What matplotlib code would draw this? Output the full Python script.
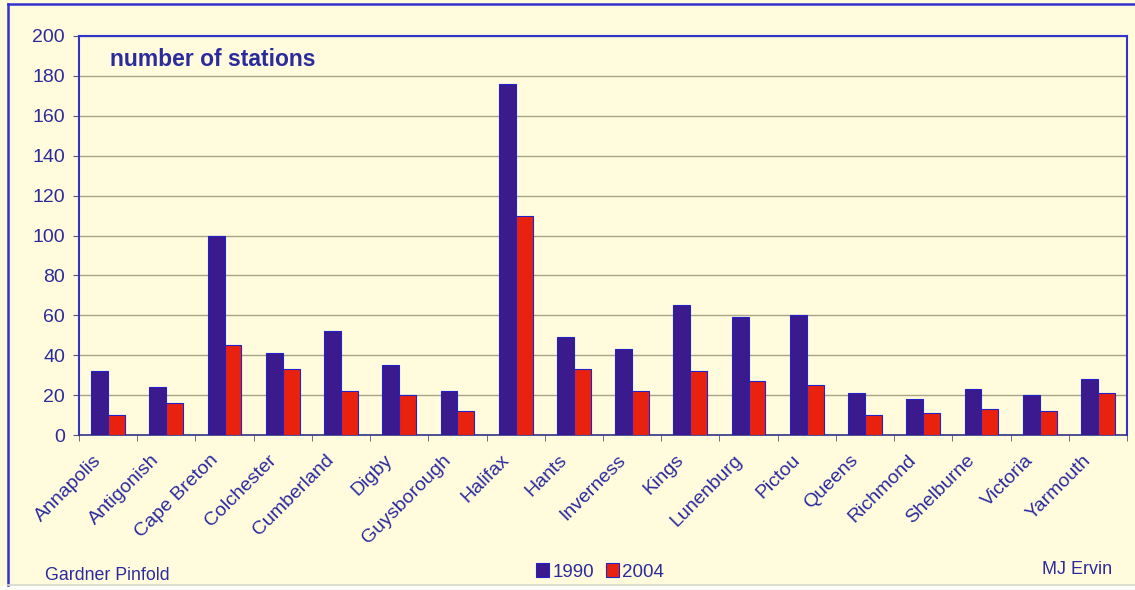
import matplotlib
matplotlib.use("Agg")
import matplotlib.pyplot as plt
import matplotlib.transforms as mtransforms
import numpy as np
from matplotlib.lines import Line2D
from matplotlib.patches import Rectangle

counties = ["Annapolis", "Antigonish", "Cape Breton", "Colchester", "Cumberland", "Digby",
            "Guysborough", "Halifax", "Hants", "Inverness", "Kings", "Lunenburg", "Pictou",
            "Queens", "Richmond", "Shelburne", "Victoria", "Yarmouth"]
stations_1990 = [32, 24, 100, 41, 52, 35, 22, 176, 49, 43, 65, 59, 60, 21, 18, 23, 20, 28]
stations_2004 = [10, 16, 45, 33, 22, 20, 12, 110, 33, 22, 32, 27, 25, 10, 11, 13, 12, 21]
yticks = [0, 20, 40, 60, 80, 100, 120, 140, 160, 180, 200]

BG = "#FFFBDC"
BLUE_TXT = "#2B2B9E"
C1990 = "#3A1A8C"
C2004 = "#E8220E"
EDGE = "#2222C8"

plt.rcParams['font.family'] = ['Liberation Sans', 'DejaVu Sans']

W, H = 1135, 590
fig = plt.figure(figsize=(W/100, H/100), dpi=100, facecolor=BG)
ax = fig.add_axes([79/W, 1-435/H, (1127-79)/W, (435-36)/H])
ax.set_facecolor(BG)

x = np.arange(len(counties))
w = 0.29
b1 = ax.bar(x - w/2, stations_1990, w, color=C1990, edgecolor=EDGE, linewidth=0.8, label="1990", zorder=3)
b2 = ax.bar(x + w/2, stations_2004, w, color=C2004, edgecolor=EDGE, linewidth=0.8, label="2004", zorder=3)

ax.set_xlim(-0.5, len(counties) - 0.5)
ax.set_ylim(0, 200)
ax.set_yticks(yticks)
ax.set_yticklabels([str(v) for v in yticks], fontsize=14, color=BLUE_TXT)
ax.yaxis.grid(True, color="#A8A488", linewidth=1.0, zorder=0)
ax.set_axisbelow(True)

ax.set_xticks(x)
ax.set_xticklabels(counties, rotation=45, ha="right", rotation_mode="anchor",
                   fontsize=14, color=BLUE_TXT)
ax.tick_params(axis="x", length=0, pad=10)
offset = mtransforms.ScaledTranslation(-11/72, -2/72, fig.dpi_scale_trans)
for lbl in ax.get_xticklabels():
    lbl.set_transform(lbl.get_transform() + offset)
ax.set_xticks(np.arange(-0.5, len(counties), 1), minor=True)
ax.tick_params(axis="x", which="minor", length=4, color="#555577", direction="out")
ax.tick_params(axis="y", length=4, color="#555577", pad=6)

for side in ["left", "top", "right"]:
    ax.spines[side].set_color("#3333CC")
    ax.spines[side].set_linewidth(1.5)
ax.spines["bottom"].set_color("#333388")
ax.spines["bottom"].set_linewidth(1.2)

ax.text(110/W, 1-60/H, "number of stations", transform=fig.transFigure, fontsize=16.5,
        fontweight="bold", color=BLUE_TXT, va="center", ha="left")

leg = fig.legend(handles=[b1, b2], labels=["1990", "2004"], loc="center",
                 bbox_to_anchor=(600/W, 1-572/H), ncol=2, frameon=False,
                 fontsize=13.5, handlelength=0.7, handleheight=0.7, handletextpad=0.2,
                 columnspacing=0.6, labelcolor=BLUE_TXT)

fig.text(45/W, 1-576/H, "Gardner Pinfold", fontsize=12.8, color=BLUE_TXT, va="center", ha="left")
fig.text(1112/W, 1-569/H, "MJ Ervin", fontsize=13, color=BLUE_TXT, va="center", ha="right")

# outer frame (left and top blue, bottom light gray)
fig.add_artist(Line2D([8/W, 8/W], [1-4/H, 1-585/H], transform=fig.transFigure,
                      color="#3333CC", linewidth=1.8))
fig.add_artist(Line2D([8/W, 1.0], [1-4/H, 1-4/H], transform=fig.transFigure,
                      color="#3333CC", linewidth=1.8))
fig.add_artist(Line2D([8/W, 1.0], [1-585/H, 1-585/H], transform=fig.transFigure,
                      color="#D8D8D0", linewidth=1.2))
fig.add_artist(Rectangle((0, 0), 1, 4/H, transform=fig.transFigure,
                         facecolor="#FEFEF8", edgecolor="none"))

fig.savefig("out.png", dpi=100, facecolor=BG)
